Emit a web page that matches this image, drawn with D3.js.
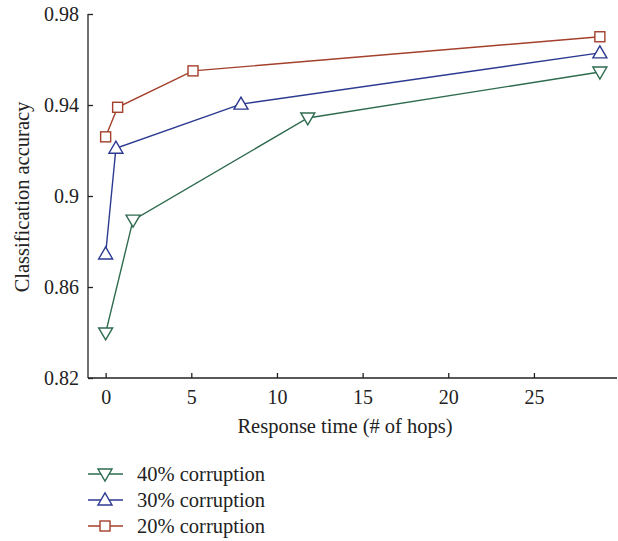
<!DOCTYPE html>
<html>
<head>
<meta charset="utf-8">
<script src="https://cdn.jsdelivr.net/npm/d3@7"></script>
<style>
  body { margin: 0; background: #fff; }
  svg text { font-family: "Liberation Serif", "DejaVu Serif", serif; fill: #222; }
</style>
</head>
<body>
<svg id="chart" width="618" height="541"></svg>
<script>
// data
const hops40 = [0, 1.6, 11.8, 28.85];
const acc40 = [0.8398, 0.8894, 0.9343, 0.9545];
const hops30 = [0, 0.6, 7.9, 28.85];
const acc30 = [0.8745, 0.921, 0.9404, 0.9629];
const hops20 = [0, 0.7, 5.1, 28.85];
const acc20 = [0.926, 0.939, 0.955, 0.970];
const seriesNames = ['40% corruption', '30% corruption', '20% corruption'];
const xTicks = [0, 5, 10, 15, 20, 25];
const yTicks = [0.82, 0.86, 0.9, 0.94, 0.98];

const colors = ['#2e6b4f', '#2b3990', '#a33f2b'];
const symbols = ['down', 'up', 'square'];

const svg = d3.select('#chart');

const x = d3.scaleLinear().domain([-1.03, 29.85]).range([88, 617]);
const y = d3.scaleLinear().domain([0.82, 0.98]).range([378, 14]);

// axes, ticks point inward
svg.append('g')
    .attr('transform', 'translate(0,378)')
    .call(d3.axisBottom(x).tickValues(xTicks).tickSize(-5).tickPadding(12).tickFormat(d3.format('d')))
    .call(g => g.select('.domain').attr('d', 'M88,0H617'));

svg.append('g')
    .attr('transform', 'translate(88,0)')
    .call(d3.axisLeft(y).tickValues(yTicks).tickSize(-5).tickPadding(9).tickFormat(d => String(d)))
    .call(g => g.select('.domain').attr('d', 'M0,14V378'));

svg.selectAll('.tick text').attr('font-size', 20).attr('fill', '#222');
svg.selectAll('.domain, .tick line').attr('stroke', '#222').attr('stroke-width', 1.3);

svg.append('text')
    .attr('x', 345).attr('y', 433)
    .attr('text-anchor', 'middle')
    .attr('font-size', 20.5)
    .text('Response time (# of hops)');

svg.append('text')
    .attr('transform', 'translate(29,197) rotate(-90)')
    .attr('text-anchor', 'middle')
    .attr('font-size', 20.5)
    .text('Classification accuracy');

function marker(g, kind, color) {
  if (kind === 'square') {
    g.append('rect').attr('x', -5).attr('y', -5).attr('width', 10).attr('height', 10)
      .attr('fill', '#fff').attr('stroke', color).attr('stroke-width', 1.4);
  } else {
    const s = kind === 'up' ? -1 : 1;
    const pts = [[-7, -5 * s], [7, -5 * s], [0, 7 * s]];
    g.append('path').attr('d', 'M' + pts.join('L') + 'Z')
      .attr('fill', '#fff').attr('stroke', color).attr('stroke-width', 1.4);
  }
}

const allSeries = [
  hops40.map((h, i) => [h, acc40[i]]),
  hops30.map((h, i) => [h, acc30[i]]),
  hops20.map((h, i) => [h, acc20[i]])
];

const line = d3.line().x(d => x(d[0])).y(d => y(d[1]));

allSeries.forEach((pts, k) => {
  svg.append('path')
    .datum(pts)
    .attr('d', line)
    .attr('fill', 'none')
    .attr('stroke', colors[k])
    .attr('stroke-width', 1.4);
  pts.forEach(p => {
    const g = svg.append('g').attr('transform', `translate(${x(p[0])},${y(p[1])})`);
    marker(g, symbols[k], colors[k]);
  });
});

// legend
seriesNames.forEach((name, k) => {
  const ly = 474 + k * 26;
  svg.append('line').attr('x1', 88).attr('x2', 123).attr('y1', ly).attr('y2', ly)
    .attr('stroke', colors[k]).attr('stroke-width', 1.4);
  marker(svg.append('g').attr('transform', `translate(105,${ly})`), symbols[k], colors[k]);
  svg.append('text').attr('x', 137).attr('y', ly + 7).attr('font-size', 20.5).text(name);
});
</script>
</body>
</html>
